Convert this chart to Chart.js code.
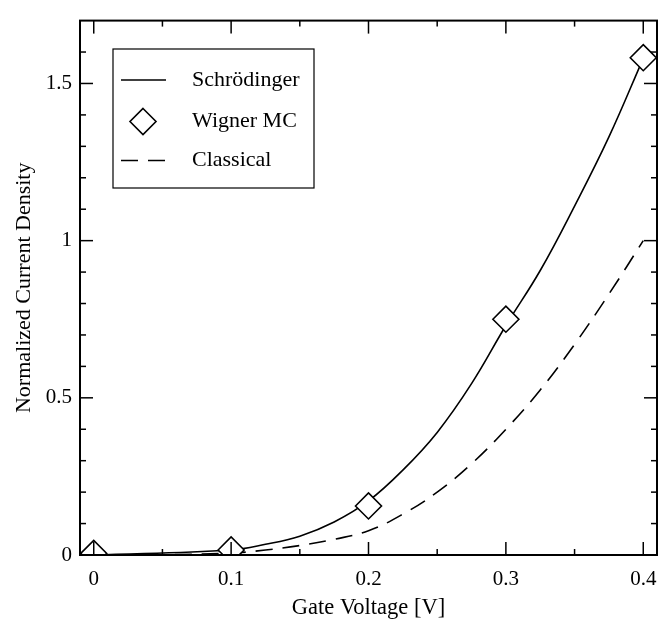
<!DOCTYPE html>
<html>
<head>
<meta charset="utf-8">
<script src="https://cdn.jsdelivr.net/npm/chart.js@4.4.0/dist/chart.umd.min.js"></script>
<style>
  html, body { margin: 0; padding: 0; background: #fff; }
  #wrap { width: 672px; height: 622px; }
</style>
</head>
<body>
<div id="wrap"><canvas id="grafica" width="672" height="622"></canvas></div>
<script>
// --- DATOS ---
const voltSchr = [0, 0.1, 0.125, 0.15, 0.175, 0.2, 0.225, 0.25, 0.275, 0.3, 0.325, 0.35, 0.375, 0.4];
const corrSchr = [0, 0.016, 0.034, 0.06, 0.105, 0.172, 0.27, 0.39, 0.545, 0.73, 0.905, 1.11, 1.33, 1.58];
const voltWigner = [0, 0.1, 0.2, 0.3, 0.4];
const corrWigner = [0.005, 0.016, 0.156, 0.75, 1.582];
const voltClasico = [0, 0.05, 0.1, 0.125, 0.15, 0.175, 0.2, 0.225, 0.25, 0.275, 0.3, 0.325, 0.35, 0.375, 0.4];
const corrClasico = [0, 0.001, 0.006, 0.016, 0.03, 0.05, 0.077, 0.13, 0.2, 0.29, 0.4, 0.525, 0.67, 0.83, 1.0];

const ticksX = [0, 0.1, 0.2, 0.3, 0.4];
const ticksXMenores = [0.05, 0.15, 0.25, 0.35];
const ticksY = [0, 0.5, 1, 1.5];
const ticksYMenores = [0.1, 0.2, 0.3, 0.4, 0.6, 0.7, 0.8, 0.9, 1.1, 1.2, 1.3, 1.4, 1.6];

const FUENTE = '"Liberation Serif", "Times New Roman", serif';
const puntos = (xs, ys) => xs.map((v, i) => ({ x: v, y: ys[i] }));

// --- PLUGIN: marco y marcas hacia dentro en los cuatro lados ---
const marcoPlugin = {
    id: 'marco',
    afterDraw(chart) {
        const { ctx, chartArea: a, scales: { x, y } } = chart;
        ctx.save();
        ctx.strokeStyle = '#000';
        ctx.lineWidth = 1.5;
        const linea = (x1, y1, x2, y2) => { ctx.beginPath(); ctx.moveTo(x1, y1); ctx.lineTo(x2, y2); ctx.stroke(); };
        const marcasX = (vals, largo) => vals.forEach(v => {
            const px = x.getPixelForValue(v);
            linea(px, a.bottom, px, a.bottom - largo);
            linea(px, a.top, px, a.top + largo);
        });
        const marcasY = (vals, largo) => vals.forEach(v => {
            const py = y.getPixelForValue(v);
            linea(a.left, py, a.left + largo, py);
            linea(a.right, py, a.right - largo, py);
        });
        marcasX(ticksX, 13); marcasX(ticksXMenores, 6);
        marcasY(ticksY, 13); marcasY(ticksYMenores, 6);
        ctx.lineWidth = 2;
        ctx.strokeRect(a.left, a.top, a.right - a.left, a.bottom - a.top);
        ctx.restore();
    }
};

// --- PLUGIN: leyenda con recuadro dentro del área ---
const leyendaPlugin = {
    id: 'leyendaCaja',
    afterDraw(chart) {
        const { ctx } = chart;
        const caja = { x: 113, y: 49, w: 201, h: 139 };
        const filas = [80, 121.5, 160.5];
        ctx.save();
        ctx.strokeStyle = '#000';
        ctx.fillStyle = '#fff';
        ctx.lineWidth = 1.2;
        ctx.fillRect(caja.x, caja.y, caja.w, caja.h);
        ctx.strokeRect(caja.x, caja.y, caja.w, caja.h);
        chart.data.datasets.forEach((ds, i) => {
            const fy = filas[i];
            ctx.save();
            if (ds.showLine === false) {
                ctx.lineWidth = ds.pointBorderWidth;
                ctx.fillStyle = '#fff';
                ctx.beginPath();
                const r = ds.pointRadius;
                ctx.moveTo(143, fy - r); ctx.lineTo(143 + r, fy); ctx.lineTo(143, fy + r); ctx.lineTo(143 - r, fy); ctx.closePath();
                ctx.fill(); ctx.stroke();
            } else {
                ctx.lineWidth = ds.borderWidth;
                ctx.setLineDash(ds.borderDash || []);
                ctx.beginPath(); ctx.moveTo(121, fy); ctx.lineTo(166, fy); ctx.stroke();
            }
            ctx.restore();
            ctx.fillStyle = '#000';
            ctx.font = '22px ' + FUENTE;
            ctx.textBaseline = 'middle';
            ctx.textAlign = 'left';
            ctx.fillText(ds.label, 192, fy);
        });
        ctx.restore();
    }
};

new Chart(document.getElementById('grafica'), {
    type: 'line',
    data: {
        datasets: [
            {
                label: 'Schrödinger',
                data: puntos(voltSchr, corrSchr),
                borderColor: '#000',
                borderWidth: 1.6,
                pointRadius: 0,
                tension: 0.4,
                fill: false,
                order: 2
            },
            {
                label: 'Wigner MC',
                data: puntos(voltWigner, corrWigner),
                showLine: false,
                pointStyle: 'rectRot',
                pointRadius: 13,
                pointBorderWidth: 1.6,
                pointBorderColor: '#000',
                pointBackgroundColor: '#fff',
                borderColor: '#000',
                backgroundColor: '#fff',
                clip: 0,
                order: 0
            },
            {
                label: 'Classical',
                data: puntos(voltClasico, corrClasico),
                borderColor: '#000',
                borderWidth: 1.6,
                borderDash: [17, 10],
                pointRadius: 0,
                tension: 0.4,
                fill: false,
                order: 1
            }
        ]
    },
    options: {
        responsive: false,
        animation: false,
        events: [],
        layout: { padding: { top: 10, right: 15, left: 0, bottom: 0 } },
        plugins: { legend: { display: false }, tooltip: { enabled: false } },
        scales: {
            x: {
                type: 'linear',
                min: -0.01,
                max: 0.41,
                afterFit: s => { s.height = 67; },
                afterBuildTicks: s => { s.ticks = ticksX.map(v => ({ value: v })); },
                grid: { display: false, drawTicks: false },
                border: { display: false },
                ticks: { color: '#000', padding: 12, font: { family: FUENTE, size: 21 }, callback: v => String(v), maxRotation: 0 },
                title: { display: true, text: 'Gate Voltage [V]', color: '#000', font: { family: FUENTE, size: 22.5 }, padding: { top: 3, bottom: 0 } }
            },
            y: {
                type: 'linear',
                min: 0,
                max: 1.7,
                afterFit: s => { s.width = 80; },
                afterBuildTicks: s => { s.ticks = ticksY.map(v => ({ value: v })); },
                grid: { display: false, drawTicks: false },
                border: { display: false },
                ticks: { color: '#000', padding: 8, font: { family: FUENTE, size: 21 }, callback: v => String(v) },
                title: { display: true, text: 'Normalized Current Density', color: '#000', font: { family: FUENTE, size: 22 }, padding: { top: 11, bottom: 0 } }
            }
        }
    },
    plugins: [marcoPlugin, leyendaPlugin]
});
</script>
</body>
</html>
